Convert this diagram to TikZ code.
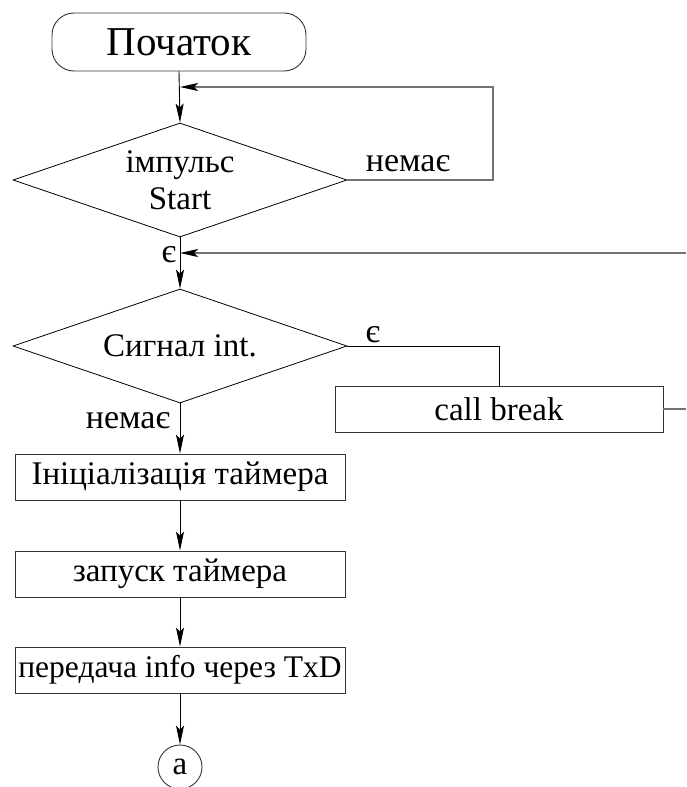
\documentclass[tikz,border=0pt]{standalone}
\usepackage{fontspec}
\setmainfont{Liberation Serif}
\usetikzlibrary{arrows.meta,shapes.geometric}
\begin{document}
\begin{tikzpicture}[x=1pt,y=-1pt,
  every node/.style={font=\fontsize{33pt}{37pt}\selectfont},
  box/.style={draw=black!80, line width=0.9pt, minimum width=330pt, minimum height=46pt, inner sep=0pt},
  dec/.style={diamond, draw=black, line width=0.8pt, minimum width=334pt, minimum height=114pt, inner sep=0pt, aspect=2.9, align=center},
  flow/.style={draw=black, line width=0.9pt, -{Stealth[length=19pt,width=8pt,inset=4pt]}},
  plain/.style={draw=black, line width=0.9pt},
  back/.style={draw=black!55, line width=1.6pt},
  backarr/.style={back, -{Stealth[length=18pt,width=8pt,inset=4pt,color=black]}},
  lbl/.style={inner sep=0pt, font=\fontsize{34pt}{38pt}\selectfont}
]
\useasboundingbox (0,0) rectangle (686,787);
\node[draw=black!80, line width=0.9pt, rounded corners=22pt, minimum width=254pt, minimum height=58pt, inner sep=0pt, font=\fontsize{41pt}{45pt}\selectfont] (start) at (179,42) {Початок};
\node[dec] (d1) at (180,180) {імпульс\\Start};
\node[dec] (d2) at (180,346) {Сигнал int.};
\node[box, minimum width=328pt] (cb) at (499,409) {call break};
\node[box] (b1) at (180,477) {Ініціалізація таймера};
\node[box] (b2) at (180,574) {запуск таймера};
\node[box, font=\fontsize{31.5pt}{36pt}\selectfont] (b3) at (180,670) {передача info через TxD};
\node[circle, draw=black!80, line width=0.9pt, minimum size=44pt, inner sep=0pt] (a) at (180,767) {a};

\node[lbl] (l1) at (408,164) {немає};
\node[lbl] (l2) at (169,255) {є};
\node[lbl] (l3) at (373,335) {є};
\node[lbl] (l4) at (128,421) {немає};

\coordinate (fb1) at (493,87);
\coordinate (j1) at (180,87);
\coordinate (r2) at (686,253);
\coordinate (j2) at (180,253);
\coordinate (r1) at (686,409);

\draw[flow] (start.south) -- (d1.north);
\draw[flow] (d1.south) -- (d2.north);
\draw[flow] (d2.south) -- (b1.north);
\draw[flow] (b1.south) -- (b2.north);
\draw[flow] (b2.south) -- (b3.north);
\draw[flow] (b3.south) -- (a.north);
\draw[backarr] (d1.east) -| (fb1) -- (j1);
\draw[backarr] (r2) -- (j2);
\draw[plain] (d2.east) -| (cb.north);
\draw[back] (cb.east) -- (r1);
\end{tikzpicture}
\end{document}
